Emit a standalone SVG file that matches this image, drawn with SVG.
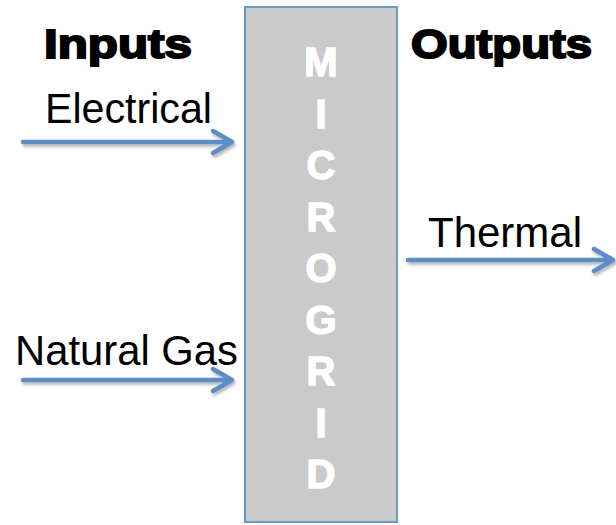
<svg xmlns="http://www.w3.org/2000/svg" width="616" height="525" viewBox="0 0 616 525">
<defs>
<style>
.hdr{font-family:"Liberation Sans",Arial,sans-serif;font-weight:bold;font-size:41px;fill:#000;stroke:#000;stroke-width:2px}
.lbl{font-family:"Liberation Sans",Arial,sans-serif;font-size:42px;fill:#000}
.ltr{font-family:"Liberation Sans",Arial,sans-serif;font-weight:bold;font-size:40px;fill:#fff;stroke:#fff;stroke-width:1.4px;text-anchor:middle}
.arr{stroke:#5b8dc6;stroke-width:4.5;fill:none;stroke-linecap:round;stroke-linejoin:round;filter:url(#sh)}
</style>
<filter id="sh" x="-10%" y="-50%" width="120%" height="200%">
<feDropShadow dx="1.5" dy="2.5" stdDeviation="1.5" flood-color="#000" flood-opacity="0.3"/>
</filter>
</defs>
<g id="microgrid">
<rect x="245" y="7" width="152" height="515" fill="#cacaca" stroke="#6f97c6" stroke-width="2"/>
<text class="ltr" x="321" y="76">M</text>
<text class="ltr" x="321" y="127.5">I</text>
<text class="ltr" x="321" y="179">C</text>
<text class="ltr" x="321" y="230.5">R</text>
<text class="ltr" x="321" y="282">O</text>
<text class="ltr" x="321" y="333.5">G</text>
<text class="ltr" x="321" y="385">R</text>
<text class="ltr" x="321" y="436.5">I</text>
<text class="ltr" x="321" y="488">D</text>
</g>
<g id="inputs-header"><text class="hdr" x="44" y="58" textLength="148" lengthAdjust="spacingAndGlyphs">Inputs</text></g>
<g id="outputs-header"><text class="hdr" x="411" y="58" textLength="181" lengthAdjust="spacingAndGlyphs">Outputs</text></g>
<g id="electrical"><text class="lbl" x="45" y="123" textLength="167" lengthAdjust="spacingAndGlyphs">Electrical</text></g>
<g id="natural-gas"><text class="lbl" x="15" y="365" textLength="223" lengthAdjust="spacingAndGlyphs">Natural Gas</text></g>
<g id="thermal"><text class="lbl" x="428" y="247" textLength="154" lengthAdjust="spacingAndGlyphs">Thermal</text></g>
<g id="connectors">
<path class="arr" d="M23 142 H231 M213 131 L232 142 L213 153"/>
<path class="arr" d="M23 380 H231 M213 369 L232 380 L213 391"/>
<path class="arr" d="M408 260 H612 M594 249 L613 260 L594 271"/>
</g>
</svg>
